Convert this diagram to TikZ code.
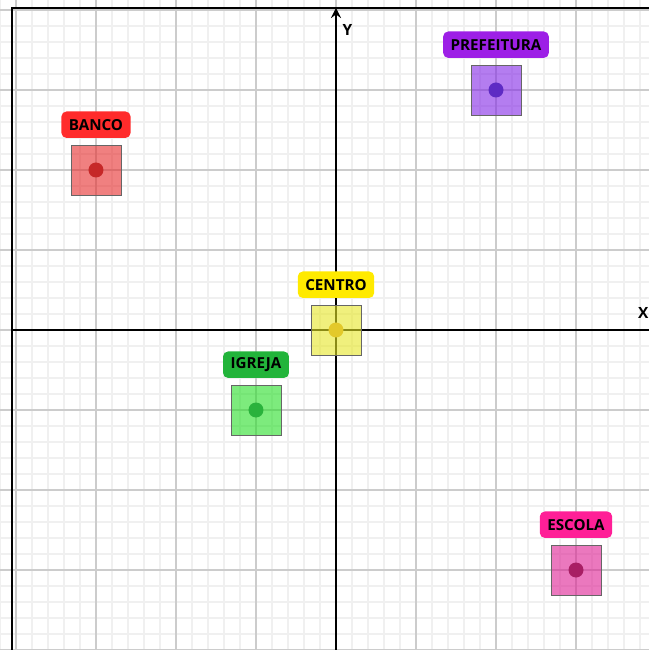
\documentclass[tikz,border=0pt]{standalone}
\usepackage{fontspec}
\setmainfont{Open Sans}
\usetikzlibrary{positioning}

\definecolor{bancoTag}{HTML}{FF2B2B}
\definecolor{bancoSq}{HTML}{E62B2B}
\definecolor{bancoDot}{HTML}{C62828}
\definecolor{prefTag}{HTML}{9D1FE6}
\definecolor{prefSq}{HTML}{8226E6}
\definecolor{prefDot}{HTML}{5E2BC4}
\definecolor{centroTag}{HTML}{FFEA00}
\definecolor{centroSq}{HTML}{E6E626}
\definecolor{centroDot}{HTML}{E3C92A}
\definecolor{igrejaTag}{HTML}{22B43A}
\definecolor{igrejaSq}{HTML}{26DE26}
\definecolor{igrejaDot}{HTML}{2AB23C}
\definecolor{escolaTag}{HTML}{FF1F97}
\definecolor{escolaSq}{HTML}{DE1E93}
\definecolor{escolaDot}{HTML}{A81E64}

\tikzset{
  gridminor/.style={line width=0.9pt, black!6},
  gridmajor/.style={line width=1.4pt, black!20},
  axis/.style={line width=2.1pt, black},
  lote/.style={draw=black!60, line width=0.6pt, fill opacity=0.6,
    minimum size=1.25cm, inner sep=0pt},
  ponto/.style={circle, inner sep=0pt, minimum size=0.375cm},
  tag/.style={rounded corners=3.5pt, inner xsep=5.3pt, inner ysep=0pt,
    minimum height=0.66cm, font=\bfseries\fontsize{10.8}{13}\selectfont, text=black}
}

\begin{document}
\begin{tikzpicture}[x=2cm, y=2cm, >=stealth]

  \useasboundingbox (-4.2,-4.0) rectangle (3.912,4.125);
  \clip (-4.2,-4.0) rectangle (3.912,4.125);

  % --- 1. 方眼 ---
  \draw[gridminor, step=0.2] (-4.4,-4.2) grid (4.2,4.4);
  \draw[gridmajor, step=1] (-4.4,-4.2) grid (4.2,4.4);

  % --- 2. 枠 (左と上だけ見える) ---
  \draw[line width=1.9pt] (-4.05,-4.5) -- (-4.05,4.025) -- (4.5,4.025);

  % --- 3. 座標軸 ---
  \draw[axis, ->] (-4.05,0) -- (4.1,0);
  \draw[axis, ->] (0,-4.2) -- (0,4.025);
  \node[font=\bfseries\fontsize{11}{13}\selectfont] (lblX) at (3.84,0.2125) {X};
  \node[font=\bfseries\fontsize{11}{13}\selectfont] (lblY) at (0.144,3.75) {Y};

  % --- 4. 各地点 ---
  % (i) BANCO (-3, 2)
  \coordinate (Banco) at (-3,2);
  \node[lote, fill=bancoSq] (sqBanco) at (Banco) {};
  \node[ponto, fill=bancoDot] (ptBanco) at (Banco) {};
  \node[tag, fill=bancoTag, above=0.16cm of sqBanco] (tagBanco) {BANCO};

  % (ii) PREFEITURA (2, 3)
  \coordinate (Prefeitura) at (2,3);
  \node[lote, fill=prefSq] (sqPref) at (Prefeitura) {};
  \node[ponto, fill=prefDot] (ptPref) at (Prefeitura) {};
  \node[tag, fill=prefTag, above=0.16cm of sqPref] (tagPref) {PREFEITURA};

  % (iii) CENTRO (0, 0)
  \coordinate (Centro) at (0,0);
  \node[lote, fill=centroSq] (sqCentro) at (Centro) {};
  \node[ponto, fill=centroDot] (ptCentro) at (Centro) {};
  \node[tag, fill=centroTag, above=0.16cm of sqCentro] (tagCentro) {CENTRO};

  % (iv) IGREJA (-1, -1)
  \coordinate (Igreja) at (-1,-1);
  \node[lote, fill=igrejaSq] (sqIgreja) at (Igreja) {};
  \node[ponto, fill=igrejaDot] (ptIgreja) at (Igreja) {};
  \node[tag, fill=igrejaTag, above=0.16cm of sqIgreja] (tagIgreja) {IGREJA};

  % (v) ESCOLA (3, -3)
  \coordinate (Escola) at (3,-3);
  \node[lote, fill=escolaSq] (sqEscola) at (Escola) {};
  \node[ponto, fill=escolaDot] (ptEscola) at (Escola) {};
  \node[tag, fill=escolaTag, above=0.16cm of sqEscola] (tagEscola) {ESCOLA};

\end{tikzpicture}
\end{document}
